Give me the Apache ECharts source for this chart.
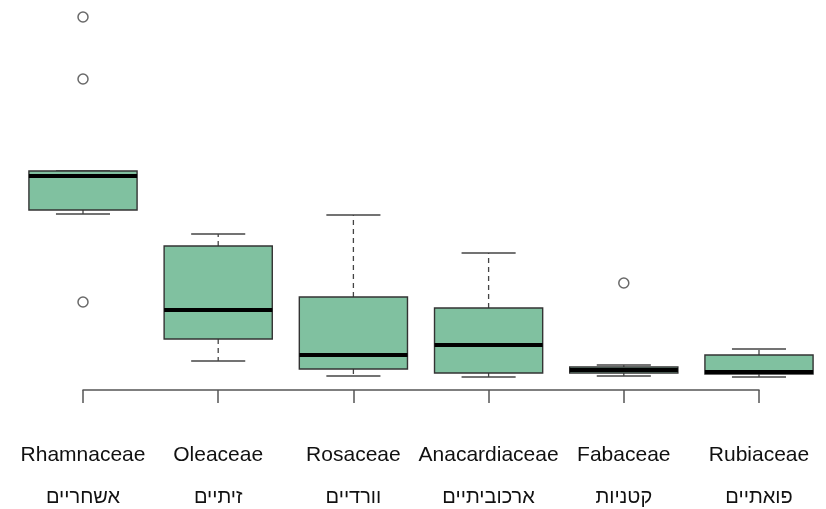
<!DOCTYPE html>
<html>
<head>
<meta charset="utf-8">
<script src="https://cdn.jsdelivr.net/npm/echarts@6/dist/echarts.min.js"></script>
<style>
html,body{margin:0;padding:0;background:#fff;}
#chart{width:826px;height:509px;}
</style>
</head>
<body>
<div id="chart"></div>
<script>
// Category labels
const categories = ['Rhamnaceae', 'Oleaceae', 'Rosaceae', 'Anacardiaceae', 'Fabaceae', 'Rubiaceae'];
const hebrewNames = ['אשחריים', 'זיתיים', 'וורדיים', 'ארכוביתיים', 'קטניות', 'פואתיים'];

// Box statistics per category: [lower whisker, Q1, median, Q3, upper whisker]
const lowerWhisker = [41.5, 4.75, 1.0, 0.75, 1.0, 0.75];
const q1          = [42.5, 10.25, 2.75, 1.75, 1.75, 1.5];
const median      = [51.0, 17.5, 6.25, 8.75, 2.5, 2.0];
const q3          = [52.25, 33.5, 20.75, 18.0, 3.25, 6.25];
const upperWhisker= [52.25, 36.5, 41.25, 31.75, 3.75, 7.75];

// Outliers: [category index, value]
const outliers = [[0, 90.75], [0, 75.25], [0, 19.5], [4, 24.25]];

const boxData = categories.map((c, i) => [i, lowerWhisker[i], q1[i], median[i], q3[i], upperWhisker[i]]);

const chart = echarts.init(document.getElementById('chart'));

function renderBox(params, api) {
  const idx = api.value(0);
  const band = api.size([1, 0])[0];
  const half = band * 0.4;
  const cap = band * 0.2;
  const pLow = api.coord([idx, api.value(1)]);
  const pQ1 = api.coord([idx, api.value(2)]);
  const pMed = api.coord([idx, api.value(3)]);
  const pQ3 = api.coord([idx, api.value(4)]);
  const pHigh = api.coord([idx, api.value(5)]);
  const x = pQ1[0];
  const lineStyle = { stroke: '#444', lineWidth: 1.3 };
  const dashStyle = { stroke: '#444', lineWidth: 1.3, lineDash: [5, 4] };
  const children = [
    { type: 'line', shape: { x1: x, y1: pQ1[1], x2: x, y2: pLow[1] }, style: dashStyle },
    { type: 'line', shape: { x1: x, y1: pQ3[1], x2: x, y2: pHigh[1] }, style: dashStyle },
    { type: 'line', shape: { x1: x - cap, y1: pLow[1], x2: x + cap, y2: pLow[1] }, style: lineStyle },
    { type: 'line', shape: { x1: x - cap, y1: pHigh[1], x2: x + cap, y2: pHigh[1] }, style: lineStyle },
    { type: 'rect', shape: { x: x - half, y: pQ3[1], width: half * 2, height: pQ1[1] - pQ3[1] },
      style: { fill: '#80C1A0', stroke: '#333', lineWidth: 1.4 } },
    { type: 'line', shape: { x1: x - half, y1: pMed[1], x2: x + half, y2: pMed[1] },
      style: { stroke: '#000', lineWidth: 4 } }
  ];
  return { type: 'group', children: children };
}

chart.setOption({
  animation: false,
  backgroundColor: '#fff',
  grid: { left: 83, right: 67, top: 0, bottom: 119 },
  xAxis: {
    type: 'category',
    data: categories,
    boundaryGap: false,
    axisLine: { show: true, onZero: false, lineStyle: { color: '#555', width: 1.5 } },
    axisTick: { show: true, length: 13, lineStyle: { color: '#555', width: 1.5 } },
    axisLabel: {
      margin: 44,
      interval: 0,
      formatter: function (v, i) { return '{a|' + v + '}\n{b|' + hebrewNames[i] + '}'; },
      rich: {
        a: { fontFamily: '"Liberation Sans Narrow", "Liberation Sans", Arial, sans-serif', fontSize: 21, lineHeight: 42, color: '#111' },
        b: { fontFamily: '"Liberation Sans Narrow", "Liberation Sans", Arial, sans-serif', fontSize: 20, lineHeight: 42, color: '#111' }
      }
    },
    splitLine: { show: false }
  },
  yAxis: {
    type: 'value',
    min: -2.5,
    max: 95,
    show: false,
    splitLine: { show: false }
  },
  series: [
    {
      type: 'custom',
      renderItem: renderBox,
      data: boxData,
      encode: { x: 0, y: [1, 2, 3, 4, 5] },
      clip: false
    },
    {
      type: 'scatter',
      data: outliers,
      symbol: 'circle',
      symbolSize: 10,
      itemStyle: { color: '#fff', borderColor: '#444', borderWidth: 1.5 }
    }
  ]
});
</script>
</body>
</html>
